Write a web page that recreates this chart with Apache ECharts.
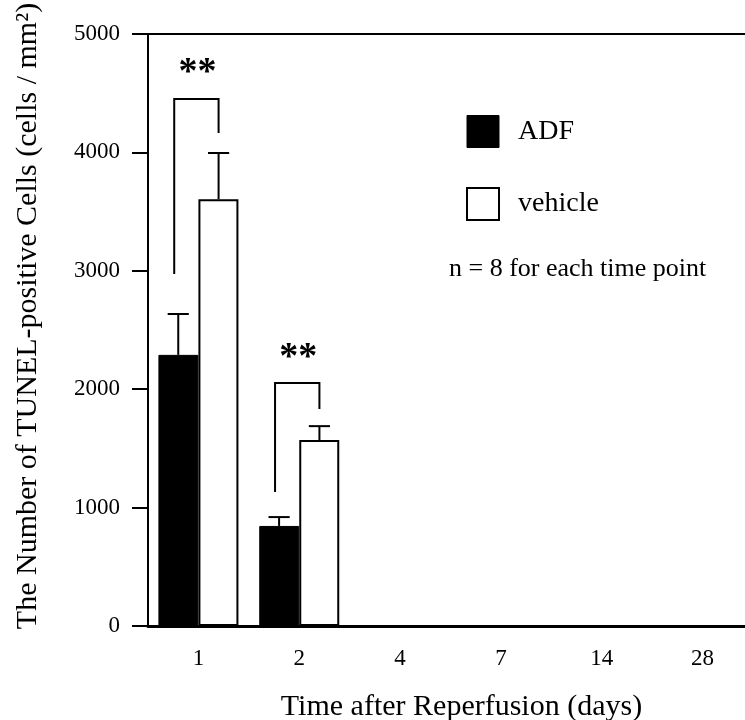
<!DOCTYPE html>
<html><head><meta charset="utf-8">
<script src="https://cdn.jsdelivr.net/npm/echarts@6/dist/echarts.min.js"></script>
<style>html,body{margin:0;padding:0;background:#fff}#c{width:745px;height:720px}</style>
</head><body><div id="c"></div>
<script>
// ---- data ----
const days = ['1', '2', '4', '7', '14', '28'];
const adfMean = [2290, 845, null, null, null, null];
const adfSD = [345, 75, null, null, null, null];
const vehicleMean = [3605, 1570, null, null, null, null];
const vehicleSD = [390, 118, null, null, null, null];
const yTicks = [0, 1000, 2000, 3000, 4000, 5000];
// significance brackets (value-axis positions)
const sigCategory = [0, 1];
const sigLeftBottom = [2973, 1132];
const sigTop = [4451, 2052];
const sigRightBottom = [4164, 1833];
const sigLabelY = [4665, 2263];
const sigLabel = ['**', '**'];
const noteText = 'n = 8 for each time point';

const FONT = '"Liberation Serif", "Times New Roman", serif';
const chart = echarts.init(document.getElementById('c'), null, {renderer: 'canvas'});

function errRender(offsetFrac) {
  return function (params, api) {
    const c = api.value(0), v = api.value(1), e = api.value(2);
    if (v == null || isNaN(v)) return;
    const band = api.size([1, 0])[0];
    const p0 = api.coord([c, v]);
    const p1 = api.coord([c, v + e]);
    const x = p0[0] + offsetFrac * band;
    const cap = band * 0.21;
    return {type: 'group', children: [
      {type: 'line', shape: {x1: x, y1: p0[1], x2: x, y2: p1[1]}, style: {stroke: '#000', lineWidth: 2}},
      {type: 'line', shape: {x1: x - cap / 2, y1: p1[1], x2: x + cap / 2, y2: p1[1]}, style: {stroke: '#000', lineWidth: 2}}
    ]};
  };
}

function sigRender(params, api) {
  const c = api.value(0);
  const band = api.size([1, 0])[0];
  const lb = api.coord([c, api.value(1)]);
  const tp = api.coord([c, api.value(2)]);
  const rb = api.coord([c, api.value(3)]);
  const ly = api.coord([c, api.value(4)]);
  const xl = lb[0] - 0.24 * band;
  const xr = lb[0] + 0.2 * band;
  return {type: 'group', children: [
    {type: 'polyline', shape: {points: [[xl, lb[1]], [xl, tp[1]], [xr, tp[1]], [xr, rb[1]]]},
     style: {stroke: '#000', lineWidth: 2, fill: null}},
    {type: 'text', x: lb[0] - 1, y: ly[1],
     style: {text: sigLabel[params.dataIndex], font: 'bold 38px ' + FONT, fill: '#000', align: 'center', verticalAlign: 'middle'}}
  ]};
}

const adfErrData = days.map((d, i) => [i, adfMean[i], adfSD[i]]).filter(r => r[1] != null);
const vehErrData = days.map((d, i) => [i, vehicleMean[i], vehicleSD[i]]).filter(r => r[1] != null);
const sigData = sigCategory.map((c, i) => [c, sigLeftBottom[i], sigTop[i], sigRightBottom[i], sigLabelY[i]]);

chart.setOption({
  animation: false,
  backgroundColor: '#fff',
  grid: {left: 148, top: 34, width: 605, bottom: 94, outerBoundsMode: 'none',
    show: true, borderColor: '#000', borderWidth: 2, backgroundColor: 'transparent'},
  title: {text: noteText, left: 449, top: 256, padding: 0,
    textStyle: {fontFamily: FONT, fontSize: 26, fontWeight: 'normal', color: '#000'}},
  legend: {
    orient: 'vertical', left: 466, top: 115, padding: 0,
    itemWidth: 32, itemHeight: 32, itemGap: 39,
    icon: 'rect',
    textStyle: {fontFamily: FONT, fontSize: 28, color: '#000', padding: [0, 0, 0, 14]},
    data: [
      {name: 'ADF', itemStyle: {color: '#000', borderColor: '#000', borderWidth: 1}},
      {name: 'vehicle', itemStyle: {color: '#fff', borderColor: '#000', borderWidth: 2}}
    ]
  },
  xAxis: {
    type: 'category', data: days,
    axisLine: {lineStyle: {color: '#000', width: 3}},
    axisTick: {show: false},
    axisLabel: {fontFamily: FONT, fontSize: 23, color: '#000', margin: 21},
    name: 'Time after Reperfusion (days)', nameLocation: 'middle', nameGap: 66,
    nameTextStyle: {fontFamily: FONT, fontSize: 30, color: '#000', padding: [0, 0, 0, 22]}
  },
  yAxis: {
    type: 'value', min: 0, max: 5000, interval: 1000,
    axisLine: {show: true, lineStyle: {color: '#000', width: 2}},
    axisTick: {show: true, length: 16, lineStyle: {color: '#000', width: 2}},
    splitLine: {show: false},
    axisLabel: {fontFamily: FONT, fontSize: 23, color: '#000', margin: 28,
      formatter: v => String(v)},
    name: 'The Number of TUNEL-positive Cells (cells / mm²)', nameLocation: 'middle', nameGap: 105,
    nameTextStyle: {fontFamily: FONT, fontSize: 30, color: '#000', padding: [0, 0, 0, 28]}
  },
  series: [
    {name: 'ADF', type: 'bar', data: adfMean, barWidth: 40, barGap: '0%',
      itemStyle: {color: '#000', borderColor: '#000', borderWidth: 1}},
    {name: 'vehicle', type: 'bar', data: vehicleMean, barWidth: 40, barGap: '0%',
      itemStyle: {color: '#fff', borderColor: '#000', borderWidth: 2}},
    {type: 'custom', name: 'adfErr', renderItem: errRender(-0.2), data: adfErrData, encode: {x: 0, y: 1}, z: 1},
    {type: 'custom', name: 'vehErr', renderItem: errRender(0.2), data: vehErrData, encode: {x: 0, y: 1}, z: 1},
    {type: 'custom', name: 'sig', renderItem: sigRender, data: sigData, encode: {x: 0, y: [1, 2, 3, 4]}, z: 3}
  ]
});
</script></body></html>
